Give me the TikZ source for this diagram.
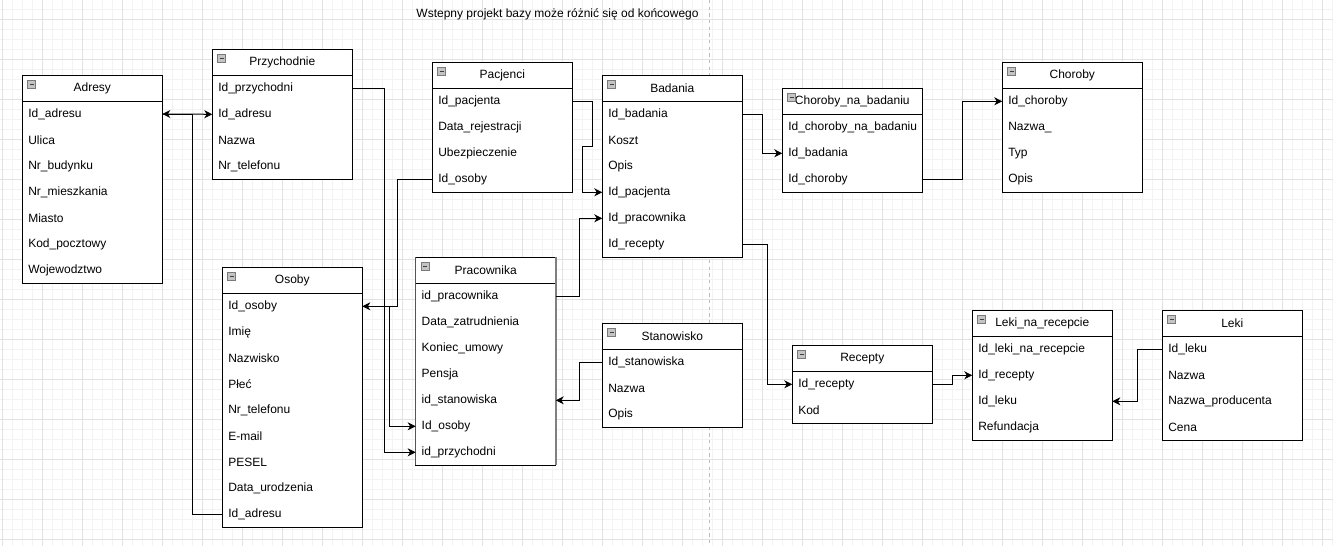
\documentclass[tikz,border=0pt]{standalone}
\usepackage{fontspec}
\setmainfont{Liberation Sans}
\usetikzlibrary{arrows.meta,calc}
\definecolor{gridmaj}{HTML}{E2E2E2}
\definecolor{gridmin}{HTML}{F3F3F3}
\definecolor{pagebrk}{HTML}{BDBDBD}
\definecolor{iconfill}{HTML}{C4C4C4}
\definecolor{iconline}{HTML}{7A7A7A}
\definecolor{pracgray}{HTML}{808080}
\definecolor{pracdark}{HTML}{555555}
\tikzset{
 every node/.style={font=\fontsize{9pt}{11pt}\selectfont},
 hdr/.style={draw, fill=white, line width=0.75pt, minimum width=105pt, minimum height=19.5pt, inner sep=0pt, outer sep=0pt, anchor=north west},
 rowtxt/.style={text width=96pt, inner xsep=4.5pt, inner ysep=0pt, outer sep=0pt, minimum height=19.5pt, align=left, anchor=north west},
 frame/.style={draw, fill=white, line width=0.75pt},
 icon/.style={draw=iconline, fill=iconfill, line width=0.6pt},
 iconminus/.style={draw=black!75, line width=0.75pt},
 conn/.style={draw, line width=0.75pt, -{Stealth[length=6pt,width=6pt,inset=1.8pt]}},
 gridminor/.style={draw=gridmin, line width=0.75pt},
 gridmajor/.style={draw=gridmaj, line width=0.75pt},
 pagebreak/.style={draw=pagebrk, line width=0.75pt, dash pattern=on 2.5pt off 2.5pt},
 title/.style={inner sep=0pt}
}
% #1 options, #2 name, #3 x, #4 y, #5 rows count, #6 title, #7 rows
\newcommand{\ertable}[7][]{%
  \draw[frame,#1] (#3,#4) rectangle ($(#3,#4)+(140,{26+26*#5})$);
  \node[hdr,#1] (#2) at (#3,#4) {#6};
  \foreach \r [count=\i] in {#7} {
    \node[rowtxt] (#2-\i) at ($(#3,#4)+(0,{26+26*(\i-1)})$) {\r};
  }
  \draw[icon] ($(#3,#4)+(5.5,5.5)$) rectangle ++(8,7.5);
  \draw[iconminus] ($(#3,#4)+(7.3,9.25)$) -- ++(4.4,0);
}
\begin{document}
\begin{tikzpicture}[x=0.75pt,y=-0.75pt]
\useasboundingbox (0,0) rectangle (1333,546);
% grid
\foreach \k in {0,...,133} { \draw[gridminor] ({2.7+10*\k},0) -- ({2.7+10*\k},546); }
\foreach \k in {0,...,54} { \draw[gridminor] (0,{-0.7+10*\k}) -- (1333,{-0.7+10*\k}); }
\foreach \k in {0,...,33} { \draw[gridmajor] ({2.7+40*\k},0) -- ({2.7+40*\k},546); }
\foreach \k in {0,...,13} { \draw[gridmajor] (0,{19.3+40*\k}) -- (1333,{19.3+40*\k}); }
\draw[pagebreak] (709.5,0) -- (709.5,546);

\node[title] (titletext) at (557.5,14) {Wstepny projekt bazy może różnić się od końcowego};

\ertable{adresy}{22.3}{75}{7}{Adresy}{Id\_adresu,Ulica,Nr\_budynku,Nr\_mieszkania,Miasto,Kod\_pocztowy,Wojewodztwo}
\ertable{przy}{212.3}{49.3}{4}{Przychodnie}{Id\_przychodni,Id\_adresu,Nazwa,Nr\_telefonu}
\ertable{pacj}{432.3}{62.3}{4}{Pacjenci}{Id\_pacjenta,Data\_rejestracji,Ubezpieczenie,Id\_osoby}
\ertable{bad}{602.3}{75.3}{6}{Badania}{Id\_badania,Koszt,Opis,Id\_pacjenta,Id\_pracownika,Id\_recepty}
\ertable{cnb}{782.3}{88.3}{3}{Choroby\_na\_badaniu}{Id\_choroby\_na\_badaniu,Id\_badania,Id\_choroby}
\ertable{chor}{1002.3}{62.3}{4}{Choroby}{Id\_choroby,Nazwa\_,Typ,Opis}
\ertable{osoby}{222.3}{267.3}{9}{Osoby}{Id\_osoby,Imię,Nazwisko,Płeć,Nr\_telefonu,E-mail,PESEL,Data\_urodzenia,Id\_adresu}
\ertable{prac}{415.7}{257.3}{7}{Pracownika}{id\_pracownika,Data\_zatrudnienia,Koniec\_umowy,Pensja,id\_stanowiska,Id\_osoby,id\_przychodni}
% Pracownika side edges (grey, as in the reference)
\draw[draw=pracdark, line width=1.05pt] (prac.north west) -- (prac-7.south west);
\draw[draw=pracgray, line width=1.5pt] ($(prac.north east)+(0.5,0)$) -- ($(prac-7.south east)+(0.5,0)$);
\ertable{stan}{602.3}{323.3}{3}{Stanowisko}{Id\_stanowiska,Nazwa,Opis}
\ertable{rec}{792.3}{345.3}{2}{Recepty}{Id\_recepty,Kod}
\ertable{lnr}{972.3}{310.3}{4}{Leki\_na\_recepcie}{Id\_leki\_na\_recepcie,Id\_recepty,Id\_leku,Refundacja}
\ertable{leki}{1162.3}{310.3}{4}{Leki}{Id\_leku,Nazwa,Nazwa\_producenta,Cena}

% connectors
\draw[conn] (osoby-9.west) -- ++(-30,0) |- (adresy-1.east);
\draw[conn] (adresy-1.east) -- (przy-2.west);
\draw[conn] (przy-1.east) -- ++(32,0) |- (prac-7.west);
\draw[conn] (pacj-4.west) -- ++(-35,0) |- (osoby-1.east);
\draw[conn] (osoby-1.east) -- ++(27,0) |- (prac-6.west);
\draw[conn] (pacj-1.east) -- ++(20,0) -- ++(0,45.5) -- ++(-10,0) |- (bad-4.west);
\draw[conn] (prac-1.east) -- ++(23.5,0) |- (bad-5.west);
\draw[conn] (bad-1.east) -- ++(20.5,0) |- (cnb-2.west);
\draw[conn] (cnb-3.east) -- ++(40,0) |- (chor-1.west);
\draw[conn] (bad-6.east) -- ++(25.5,0) |- (rec-1.west);
\draw[conn] (rec-1.east) -- ++(20,0) |- (lnr-2.west);
\draw[conn] (leki-1.west) -- ++(-24.5,0) |- (lnr-3.east);
\draw[conn] (stan-1.west) -- ++(-23,0) |- (prac-5.east);
\end{tikzpicture}
\end{document}
